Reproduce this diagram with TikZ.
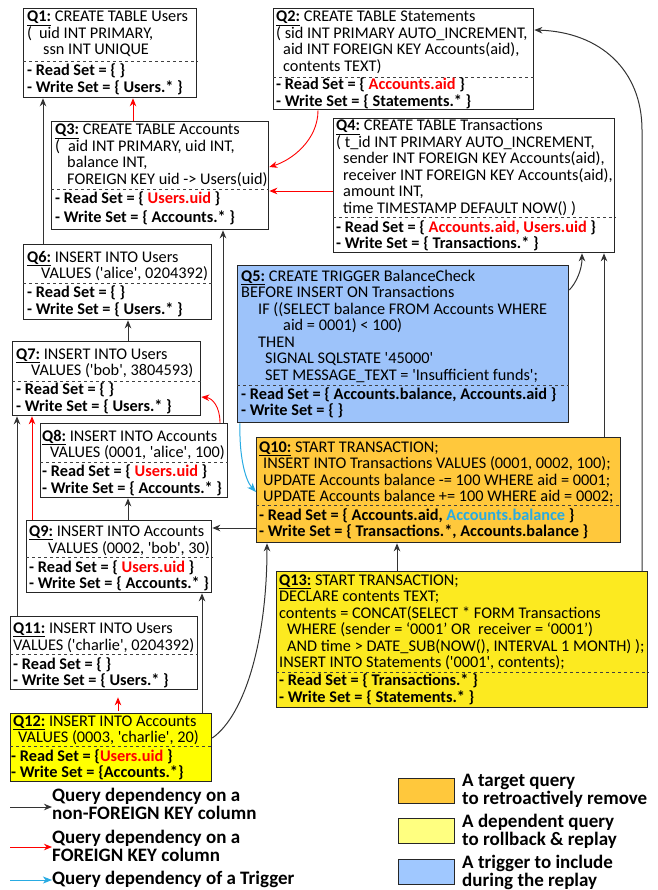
\documentclass[tikz,border=0pt]{standalone}
\usepackage{fontspec}
\setmainfont{Carlito}
\usepackage{tikz}
\usetikzlibrary{arrows.meta}

\definecolor{qorange}{RGB}{255,200,60}
\definecolor{qyellow}{RGB}{255,255,0}
\definecolor{qgold}{RGB}{252,234,32}
\definecolor{qblue}{RGB}{157,195,250}
\definecolor{lyellow}{RGB}{255,255,128}
\definecolor{lblue}{RGB}{160,200,255}
\definecolor{qred}{RGB}{255,0,0}
\definecolor{qcyan}{RGB}{41,171,226}

\newcommand{\qid}[1]{\underline{\textbf{#1}}}
\newcommand{\rd}[1]{\textcolor{qred}{#1}}
\newcommand{\sq}{\textquotesingle}

\begin{document}
\begin{tikzpicture}[x=1pt,y=-1pt,
    qbox/.style={draw=black!85, line width=1.3pt, anchor=north west, fill=white},
    qtxt/.style={anchor=base west, align=left, font=\fontsize{16.3}{16.5}\selectfont},
    sets/.style={anchor=base west, align=left, font=\fontsize{16.3}{17}\selectfont\bfseries},
    sep/.style={dashed, draw=black!75, line width=0.8pt},
    dep/.style={draw=black!80, line width=1pt, -{Stealth[length=8pt,width=6.5pt,inset=2.5pt]}},
    fk/.style={draw=qred, line width=0.9pt, -{Stealth[length=8pt,width=6.5pt,inset=2.5pt]}},
    trg/.style={draw=qcyan, line width=1pt, -{Stealth[length=9pt,width=7pt,inset=2.5pt]}},
    lkey/.style={draw=black!85, line width=1.2pt, anchor=north west, minimum width=56, minimum height=25},
    legend/.style={anchor=west, align=left, font=\fontsize{19}{18}\selectfont\bfseries}]
        \tikzstyle{every node}+=[inner sep=0pt]
        \useasboundingbox (0,0) rectangle (657,890);
        \node [qbox, minimum width=173, minimum height=89] (q1) at (23,8) {};
        \node [qbox, minimum width=260, minimum height=101] (q2) at (273,8) {};
        \node [qbox, minimum width=217, minimum height=108] (q3) at (51,121) {};
        \node [qbox, minimum width=281, minimum height=134] (q4) at (333,118) {};
        \node [qbox, fill=qblue, minimum width=331, minimum height=157] (q5) at (237,265) {};
        \node [qbox, minimum width=188, minimum height=75] (q6) at (23,244) {};
        \node [qbox, minimum width=188, minimum height=74] (q7) at (12,341) {};
        \node [qbox, minimum width=187, minimum height=74] (q8) at (40,423) {};
        \node [qbox, minimum width=185, minimum height=72] (q9) at (26,520) {};
        \node [qbox, fill=qorange, minimum width=364, minimum height=105] (q10) at (256,437) {};
        \node [qbox, minimum width=187, minimum height=73] (q11) at (10,616) {};
        \node [qbox, fill=qyellow, minimum width=201, minimum height=68] (q12) at (10,713) {};
        \node [qbox, fill=qgold, minimum width=371, minimum height=136] (q13) at (276,571) {};
        \draw [sep] (q1.west |- 0,61) -- (q1.east |- 0,61);
        \draw [sep] (q2.west |- 0,77) -- (q2.east |- 0,77);
        \draw [sep] (q3.west |- 0,189) -- (q3.east |- 0,189);
        \draw [sep] (q4.west |- 0,217) -- (q4.east |- 0,217);
        \draw [sep] (q5.west |- 0,385) -- (q5.east |- 0,385);
        \draw [sep] (q6.west |- 0,283) -- (q6.east |- 0,283);
        \draw [sep] (q7.west |- 0,381) -- (q7.east |- 0,381);
        \draw [sep] (q8.west |- 0,462) -- (q8.east |- 0,462);
        \draw [sep] (q9.west |- 0,557) -- (q9.east |- 0,557);
        \draw [sep] (q10.west |- 0,505) -- (q10.east |- 0,505);
        \draw [sep] (q11.west |- 0,654) -- (q11.east |- 0,654);
        \draw [sep] (q12.west |- 0,746) -- (q12.east |- 0,746);
        \draw [sep] (q13.west |- 0,672) -- (q13.east |- 0,672);
        \node [qtxt] (q1a) at (27,55) {\qid{Q1:} CREATE TABLE Users\\(\hspace*{7pt}uid INT PRIMARY,\\\hspace*{16pt}ssn INT UNIQUE};
        \node [sets] (q1b) at (27,93) {- Read Set = \{ \}\\- Write Set = \{ Users.* \}};
        \node [qtxt] (q2a) at (276,71.5) {\qid{Q2:} CREATE TABLE Statements\\( sid INT PRIMARY AUTO\_INCREMENT,\\\hspace*{7pt}aid INT FOREIGN KEY Accounts(aid),\\\hspace*{7pt}contents TEXT)};
        \node [sets] (q2b) at (276,107) {- Read Set = \{ \rd{Accounts.aid} \}\\- Write Set = \{ Statements.* \}};
        \node [qtxt] (q3a) at (55,184.5) {\qid{Q3:} CREATE TABLE Accounts\\(\hspace*{8pt}aid INT PRIMARY, uid INT,\\\hspace*{12pt}balance INT,\\\hspace*{12pt}FOREIGN KEY uid -> Users(uid)};
        \node [sets, font=\fontsize{16.3}{19}\selectfont\bfseries] (q3b) at (55,223) {- Read Set = \{ \rd{Users.uid} \}\\- Write Set = \{ Accounts.* \}};
        \node [qtxt] (q4a) at (336,213.5) {\qid{Q4:} CREATE TABLE Transactions\\( t\_id INT PRIMARY AUTO\_INCREMENT,\\\hspace*{7pt}sender INT FOREIGN KEY Accounts(aid),\\\hspace*{7pt}receiver INT FOREIGN KEY Accounts(aid),\\\hspace*{7pt}amount INT,\\\hspace*{7pt}time TIMESTAMP DEFAULT NOW() )};
        \node [sets] (q4b) at (336,249) {- Read Set = \{ \rd{Accounts.aid, Users.uid} \}\\- Write Set = \{ Transactions.* \}};
        \node [qtxt] (q5a) at (241,380) {\qid{Q5:} CREATE TRIGGER BalanceCheck\\BEFORE INSERT ON Transactions\\\hspace*{17pt}IF ((SELECT balance FROM Accounts WHERE\\\hspace*{42pt}aid = 0001) < 100)\\\hspace*{17pt}THEN\\\hspace*{24pt}SIGNAL SQLSTATE \sq45000\sq\\\hspace*{24pt}SET MESSAGE\_TEXT = \sq Insufficient funds\sq;};
        \node [sets, font=\fontsize{16.3}{16.5}\selectfont\bfseries] (q5b) at (241,415.5) {- Read Set = \{ Accounts.balance, Accounts.aid \}\\- Write Set = \{ \}};
        \node [qtxt, font=\fontsize{16.3}{16}\selectfont] (q6a) at (27,278) {\qid{Q6:} INSERT INTO Users\\\hspace*{14pt}VALUES (\sq alice\sq, 0204392)};
        \node [sets] (q6b) at (27,314) {- Read Set = \{ \}\\- Write Set = \{ Users.* \}};
        \node [qtxt, font=\fontsize{16.3}{16}\selectfont] (q7a) at (16,375) {\qid{Q7:} INSERT INTO Users\\\hspace*{15pt}VALUES (\sq bob\sq, 3804593)};
        \node [sets] (q7b) at (16,411) {- Read Set = \{ \}\\- Write Set = \{ Users.* \}};
        \node [qtxt, font=\fontsize{16.3}{16}\selectfont] (q8a) at (42,457) {\qid{Q8:} INSERT INTO Accounts\\\hspace*{8pt}VALUES (0001, \sq alice\sq, 100)};
        \node [sets] (q8b) at (42,493) {- Read Set = \{ \rd{Users.uid} \}\\- Write Set = \{ Accounts.* \}};
        \node [qtxt, font=\fontsize{16.3}{17}\selectfont] (q9a) at (29,553) {\qid{Q9:} INSERT INTO Accounts\\\hspace*{19pt}VALUES (0002, \sq bob\sq, 30)};
        \node [sets, font=\fontsize{16.3}{16.5}\selectfont\bfseries] (q9b) at (29,588.5) {- Read Set = \{ \rd{Users.uid} \}\\- Write Set = \{ Accounts.* \}};
        \node [qtxt] (q10a) at (259,501.5) {\qid{Q10:} START TRANSACTION;\\\hspace*{4pt}INSERT INTO Transactions VALUES (0001, 0002, 100);\\\hspace*{4pt}UPDATE Accounts balance -= 100 WHERE aid = 0001;\\\hspace*{4pt}UPDATE Accounts balance += 100 WHERE aid = 0002;};
        \node [sets, font=\fontsize{16.3}{16.5}\selectfont\bfseries] (q10b) at (259,536.5) {- Read Set = \{ Accounts.aid, \textcolor{qcyan}{Accounts.balance} \}\\- Write Set = \{ Transactions.*, Accounts.balance \}};
        \node [qtxt, font=\fontsize{16.3}{17}\selectfont] (q11a) at (13,650) {\qid{Q11:} INSERT INTO Users\\VALUES (\sq charlie\sq, 0204392)};
        \node [sets, font=\fontsize{16.3}{16.5}\selectfont\bfseries] (q11b) at (13,685.5) {- Read Set = \{ \}\\- Write Set = \{ Users.* \}};
        \node [qtxt, font=\fontsize{16.3}{16}\selectfont] (q12a) at (13,742) {\qid{Q12:} INSERT INTO Accounts\\\hspace*{5pt}VALUES (0003, \sq charlie\sq, 20)};
        \node [sets, font=\fontsize{16.3}{16}\selectfont\bfseries] (q12b) at (11,777) {- Read Set = \{\rd{Users.uid} \}\\- Write Set = \{Accounts.*\}};
        \node [qtxt] (q13a) at (279,667.5) {\qid{Q13:} START TRANSACTION;\\DECLARE contents TEXT;\\contents = CONCAT(SELECT * FORM Transactions\\\hspace*{8pt}WHERE (sender = `0001' OR\ \ receiver = `0001')\\\hspace*{8pt}AND time > DATE\_SUB(NOW(), INTERVAL 1 MONTH) );\\INSERT INTO Statements (\sq0001\sq, contents);};
        \node [sets] (q13b) at (279,702) {- Read Set = \{ Transactions.* \}\\- Write Set = \{ Statements.* \}};
        \draw [dep] (q6.north -| 43,0) -- (q1.south -| 43,0);
        \draw [fk] (q3.north -| 133,0) -- (q1.south -| 133,0);
        \draw [fk] (q2.south -| 318,0) .. controls (318,140) and (292,160) .. (q3.east |- 0,167);
        \draw [fk] (q4.west |- 0,191) -- (q3.east |- 0,191);
        \draw [dep] (q8.north -| 223,0) -- (q3.south -| 223,0);
        \draw [dep] (q7.north -| 128,0) -- (q6.south -| 128,0);
        \draw [fk] (q8.north -| 220,0) .. controls (220,406) and (212,398) .. (q7.east |- 0,397);
        \draw [fk] (q9.north -| 32,0) -- (q7.south -| 32,0);
        \draw [dep] (q9.north -| 128,0) -- (q8.south -| 128,0);
        \draw [dep] (q11.north -| 17,0) -- (q7.south -| 17,0);
        \draw [dep] (q10.west |- 0,528) -- (q9.east |- 0,528);
        \draw [dep] (q10.north -| 604,0) -- (q4.south -| 604,0);
        \draw [dep] (q5.east |- 0,290) .. controls (576,283) and (582,270) .. (q4.south -| 582,0);
        \draw [trg] (q5.south -| 240,0) .. controls (239,455) and (245,480) .. (q10.west |- 0,492);
        \draw [dep] (q13.north -| 397,0) -- (q10.south -| 397,0);
        \draw [dep] (q13.north -| 642,0) -- (642,130) .. controls (642,70) and (600,32) .. (q2.east |- 0,30);
        \draw [dep] (q12.east |- 0,738) .. controls (245,715) and (267,640) .. (q10.south -| 267,0);
        \draw [dep] (q12.north -| 202,0) -- (q9.south -| 202,0);
        \draw [fk, shorten >=7pt, shorten <=2pt] (q12.north -| 118,0) -- (q11.south -| 118,0);
        \node [legend] (l1) at (52,804) {Query dependency on a\\non-FOREIGN KEY column};
        \node [legend] (l2) at (52,846) {Query dependency on a\\FOREIGN KEY column};
        \node [legend] (l3) at (52,879) {Query dependency of a Trigger};
        \coordinate (l1s) at (10,807);
        \coordinate (l2s) at (10,847);
        \coordinate (l3s) at (10,880);
        \draw [dep] (l1s) -- (l1.west |- l1s);
        \draw [fk] (l2s) -- (l2.west |- l2s);
        \draw [trg] (l3s) -- (l3.west |- l3s);
        \node [lkey, fill=qorange] (k1) at (398,778) {};
        \node [lkey, fill=lyellow] (k2) at (398,818) {};
        \node [lkey, fill=lblue] (k3) at (398,859) {};
        \node [legend] (k1t) at (462,791) {A target query\\to retroactively remove};
        \node [legend] (k2t) at (462,831) {A dependent query\\to rollback \& replay};
        \node [legend] (k3t) at (462,872) {A trigger to include\\during the replay};
\end{tikzpicture}
\end{document}
